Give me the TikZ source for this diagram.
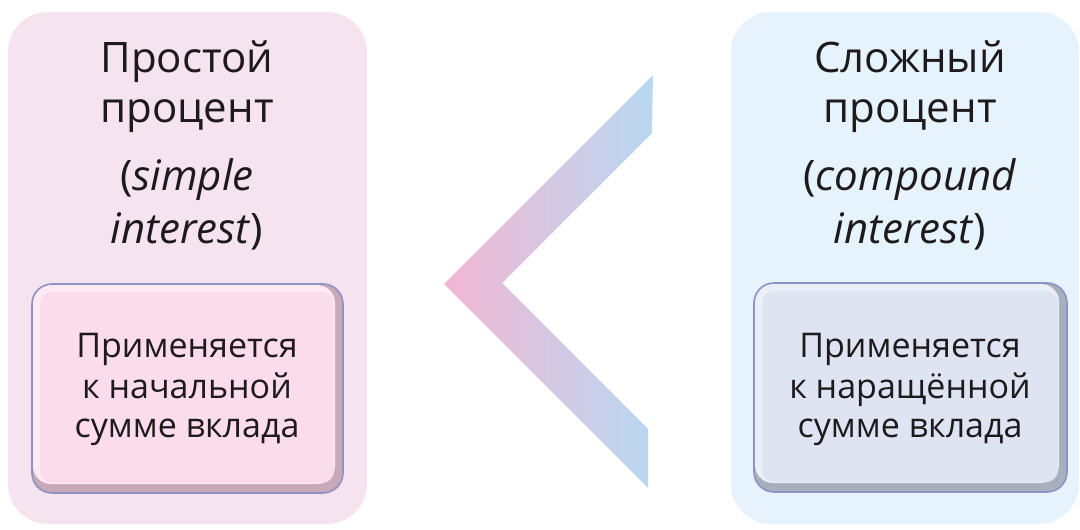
\documentclass[tikz,border=0pt]{standalone}
\usepackage{fontspec}
\setmainfont{Open Sans}
\definecolor{txt}{HTML}{1E1A1B}
\definecolor{lbg}{HTML}{F5E4EF}
\definecolor{rbg}{HTML}{E7F3FC}
\definecolor{lmain}{HTML}{FADCEA}
\definecolor{lhi}{HTML}{FDEBF4}
\definecolor{lsh}{HTML}{C7A9BA}
\definecolor{rmain}{HTML}{DEE4F2}
\definecolor{rhi}{HTML}{EAEFF8}
\definecolor{rsh}{HTML}{A9AEBD}
\definecolor{bord}{HTML}{8E93C6}
\definecolor{chpink}{HTML}{F2B6D3}
\definecolor{chblue}{HTML}{B9D8F1}
\newcommand\bevbox[8]{%
  \fill[#5, rounded corners=20] (#1,#2) rectangle (#3,#4);
  \fill[#6, rounded corners=18] (#1+1,#2+1) rectangle (#3-8,#4-9);
  \fill[#7, rounded corners=12] (#1+8,#2+8) rectangle (#3-9,#4-10);
  \draw[#8, line width=1.6, rounded corners=20] (#1,#2) rectangle (#3,#4);
}
\begin{document}
\begin{tikzpicture}[x=1pt,y=-1pt,
  title/.style={font=\fontsize{42}{50}\selectfont, text=txt, anchor=base, inner sep=0pt},
  body/.style={font=\fontsize{34}{40}\selectfont, text=txt, anchor=base, inner sep=0pt}]
\useasboundingbox (0,0) rectangle (1080,530);
\fill[white] (0,0) rectangle (1080,530);
% outer panels
\fill[lbg, rounded corners=40] (8,12) rectangle (367,524);
\fill[rbg, rounded corners=40] (731,12) rectangle (1079,524);
% chevron
\shade[left color=chpink, right color=chblue]
  (653,75) -- (444,284) -- (648,488) -- (648,429) -- (502,283) -- (652,133) -- cycle;
% inner boxes
\bevbox{32}{284}{343}{493}{lsh}{lhi}{lmain}{bord}
\bevbox{754}{283}{1067}{492}{rsh}{rhi}{rmain}{bord}
% left texts
\node[title] (lt1) at (187,72) {Простой};
\node[title] (lt2) at (187,122) {процент};
\node[title] (lt3) at (187,190) {(\textit{simple}};
\node[title] (lt4) at (187,243) {\textit{interest})};
\node[body] (lb1) at (187,357) {Применяется};
\node[body] (lb2) at (187,398) {к начальной};
\node[body] (lb3) at (187,437) {сумме вклада};
% right texts
\node[title] (rt1) at (910,72) {Сложный};
\node[title] (rt2) at (910,122) {процент};
\node[title] (rt3) at (910,190) {(\textit{compound}};
\node[title] (rt4) at (910,243) {\textit{interest})};
\node[body] (rb1) at (910,357) {Применяется};
\node[body] (rb2) at (910,398) {к наращённой};
\node[body] (rb3) at (910,437) {сумме вклада};
\end{tikzpicture}
\end{document}
